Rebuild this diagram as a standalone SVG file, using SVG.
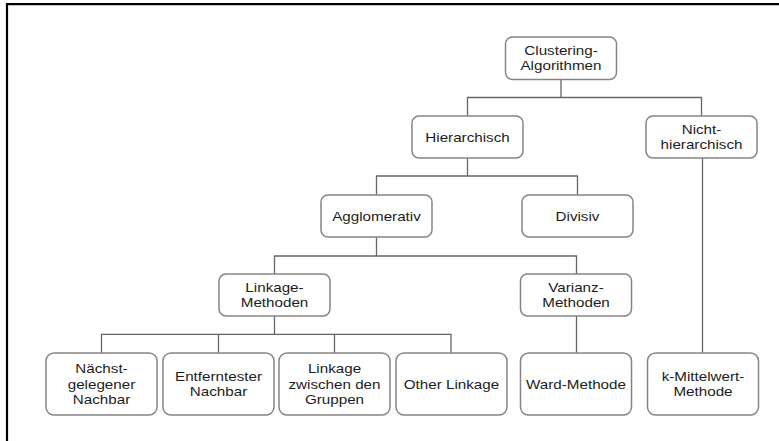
<svg xmlns="http://www.w3.org/2000/svg" width="779" height="441" viewBox="0 0 779 441">
  <style>
    .box { fill: #ffffff; stroke: #858585; stroke-width: 1.5; }
    .lbl { font-family: "Liberation Sans", Arial, sans-serif; font-size: 13px; fill: #1c1c1c; text-anchor: middle; }
    .wire { fill: none; stroke: #666666; stroke-width: 1.3; }
    .frame { fill: none; stroke: #000000; stroke-width: 2.2; }
  </style>
  <rect width="779" height="441" fill="#ffffff"/>
  <!-- frame edges -->
  <path class="frame" d="M7 441 V4.1 H779"/>

  <!-- tree connectors -->
  <g id="connectors">
    <path class="wire" d="M561 79.5 V97.5 M467.5 116 V97.5 H701.5 V116"/>
    <path class="wire" d="M467.5 158 V176 M376.5 195 V176 H577.5 V195"/>
    <path class="wire" d="M376.5 237 V256 M274.5 274 V256 H576.5 V274"/>
    <path class="wire" d="M274.5 316 V334.3 M101.5 353 V334.3 H451 V353 M218.5 334.3 V353 M334.5 334.3 V353"/>
    <path class="wire" d="M576.5 316 V353"/>
    <path class="wire" d="M702.5 158 V353"/>
  </g>

  <g id="clustering">
    <rect class="box" x="505.5" y="37" width="111" height="42.5" rx="7"/>
    <g transform="translate(561 0) scale(1.17 1)">
      <text class="lbl" x="0" y="54.6">Clustering-</text>
      <text class="lbl" x="0" y="70.3">Algorithmen</text>
    </g>
  </g>

  <g id="hierarchisch">
    <rect class="box" x="412" y="116" width="111" height="42" rx="7"/>
    <g transform="translate(467.5 0) scale(1.17 1)">
      <text class="lbl" x="0" y="141.6">Hierarchisch</text>
    </g>
  </g>

  <g id="nicht-hierarchisch">
    <rect class="box" x="646" y="116" width="111" height="42" rx="7"/>
    <g transform="translate(701.5 0) scale(1.17 1)">
      <text class="lbl" x="0" y="133.7">Nicht-</text>
      <text class="lbl" x="0" y="149.5">hierarchisch</text>
    </g>
  </g>

  <g id="agglomerativ">
    <rect class="box" x="321" y="195" width="111" height="42" rx="7"/>
    <g transform="translate(376.5 0) scale(1.17 1)">
      <text class="lbl" x="0" y="220.6">Agglomerativ</text>
    </g>
  </g>

  <g id="divisiv">
    <rect class="box" x="522" y="195" width="111" height="42" rx="7"/>
    <g transform="translate(577.5 0) scale(1.17 1)">
      <text class="lbl" x="0" y="220.6">Divisiv</text>
    </g>
  </g>

  <g id="linkage-methoden">
    <rect class="box" x="219" y="274" width="111" height="42" rx="7"/>
    <g transform="translate(274.5 0) scale(1.17 1)">
      <text class="lbl" x="0" y="291.7">Linkage-</text>
      <text class="lbl" x="0" y="307.5">Methoden</text>
    </g>
  </g>

  <g id="varianz-methoden">
    <rect class="box" x="520.5" y="274" width="111" height="42" rx="7"/>
    <g transform="translate(576 0) scale(1.17 1)">
      <text class="lbl" x="0" y="291.7">Varianz-</text>
      <text class="lbl" x="0" y="307.5">Methoden</text>
    </g>
  </g>

  <g id="naechstgelegener-nachbar">
    <rect class="box" x="46" y="353" width="111" height="62" rx="8"/>
    <g transform="translate(101.5 0) scale(1.17 1)">
      <text class="lbl" x="0" y="372.8">Nächst-</text>
      <text class="lbl" x="0" y="388.6">gelegener</text>
      <text class="lbl" x="0" y="404.4">Nachbar</text>
    </g>
  </g>

  <g id="entferntester-nachbar">
    <rect class="box" x="163" y="353" width="111" height="62" rx="8"/>
    <g transform="translate(218.5 0) scale(1.17 1)">
      <text class="lbl" x="0" y="380.7">Entferntester</text>
      <text class="lbl" x="0" y="396.5">Nachbar</text>
    </g>
  </g>

  <g id="linkage-zwischen-gruppen">
    <rect class="box" x="279" y="353" width="111" height="62" rx="8"/>
    <g transform="translate(334.5 0) scale(1.17 1)">
      <text class="lbl" x="0" y="372.8">Linkage</text>
      <text class="lbl" x="0" y="388.6">zwischen den</text>
      <text class="lbl" x="0" y="404.4">Gruppen</text>
    </g>
  </g>

  <g id="other-linkage">
    <rect class="box" x="396" y="353" width="111" height="62" rx="8"/>
    <g transform="translate(451.5 0) scale(1.17 1)">
      <text class="lbl" x="0" y="388.6">Other Linkage</text>
    </g>
  </g>

  <g id="ward-methode">
    <rect class="box" x="520.5" y="353" width="111" height="62" rx="8"/>
    <g transform="translate(576 0) scale(1.17 1)">
      <text class="lbl" x="0" y="388.6">Ward-Methode</text>
    </g>
  </g>

  <g id="k-mittelwert-methode">
    <rect class="box" x="647.5" y="353" width="111" height="62" rx="8"/>
    <g transform="translate(703 0) scale(1.17 1)">
      <text class="lbl" x="0" y="380.7">k-Mittelwert-</text>
      <text class="lbl" x="0" y="396.5">Methode</text>
    </g>
  </g>
</svg>
